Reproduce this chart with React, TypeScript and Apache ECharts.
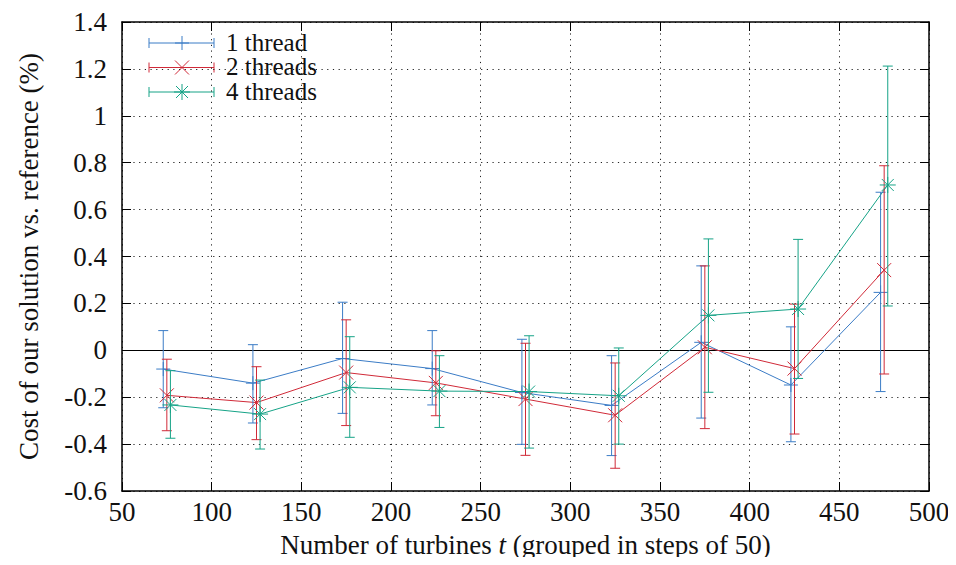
import React, { useEffect, useRef } from "react";
import * as echarts from "echarts";

// Group centres (number of turbines, grouped in steps of 50)
const groupCentres = [75, 125, 175, 225, 275, 325, 375, 425, 475];

// x positions (slightly shifted per series, as in the original plot)
const x1 = [73, 123, 173, 223, 273, 323, 373, 423, 473];
const x2 = [75, 125, 175, 225, 275, 325, 375, 425, 475];
const x4 = [77, 127, 177, 227, 277, 327, 377, 427, 477];

// 1 thread
const mean1 = [-0.08, -0.14, -0.035, -0.078, -0.18, -0.235, 0.034, -0.148, 0.247];
const low1 = [-0.245, -0.31, -0.269, -0.233, -0.401, -0.449, -0.289, -0.39, -0.176];
const high1 = [0.084, 0.024, 0.205, 0.084, 0.047, -0.023, 0.36, 0.1, 0.674];

// 2 threads
const mean2 = [-0.192, -0.223, -0.095, -0.139, -0.208, -0.277, 0.013, -0.078, 0.342];
const low2 = [-0.343, -0.381, -0.321, -0.279, -0.448, -0.503, -0.334, -0.357, -0.101];
const high2 = [-0.038, -0.07, 0.13, -0.002, 0.03, -0.054, 0.36, 0.197, 0.787];

// 4 threads
const mean4 = [-0.233, -0.272, -0.158, -0.174, -0.176, -0.194, 0.149, 0.176, 0.705];
const low4 = [-0.375, -0.421, -0.371, -0.329, -0.417, -0.4, -0.179, -0.12, 0.189];
const high4 = [-0.087, -0.127, 0.058, -0.023, 0.062, 0.01, 0.475, 0.473, 1.212];

const seriesNames = ["1 thread", "2 threads", "4 threads"];
const xTicks = { min: 50, max: 500, interval: 50 };
const yTicks = { min: -0.6, max: 1.4, interval: 0.2 };

const COLORS = ["#3b7cc6", "#d02a38", "#16a387"];
const MARKERS = ["plus", "cross", "star"];
const FONT = "Liberation Serif";
const FS = 27;
const LEGEND_FS = 25;

function seg(x1: number, y1: number, x2: number, y2: number, color: string, w = 1) {
  return {
    type: "line",
    shape: { x1, y1, x2, y2 },
    style: { stroke: color, lineWidth: w },
    silent: true,
  };
}

function markerLines(kind: string, cx: number, cy: number, color: string) {
  const out: any[] = [];
  if (kind === "plus" || kind === "star") {
    const s = kind === "plus" ? 7 : 8;
    out.push(seg(cx - s, cy, cx + s, cy, color));
    out.push(seg(cx, cy - s, cx, cy + s, color));
  }
  if (kind === "cross" || kind === "star") {
    const s = kind === "cross" ? 7 : 6;
    out.push(seg(cx - s, cy - s, cx + s, cy + s, color));
    out.push(seg(cx - s, cy + s, cx + s, cy - s, color));
  }
  return out;
}

function makeRender(color: string, kind: string) {
  return (params: any, api: any) => {
    const x = api.value(0);
    const y = api.value(1);
    const lo = api.value(2);
    const hi = api.value(3);
    const c = api.coord([x, y]);
    const l = api.coord([x, lo]);
    const h = api.coord([x, hi]);
    const cap = 5;
    return {
      type: "group",
      children: [
        seg(h[0], h[1], l[0], l[1], color),
        seg(h[0] - cap, h[1], h[0] + cap, h[1], color),
        seg(l[0] - cap, l[1], l[0] + cap, l[1], color),
        ...markerLines(kind, c[0], c[1], color),
      ],
    };
  };
}

export default function App() {
  const ref = useRef<HTMLDivElement>(null);
  useEffect(() => {
    if (!ref.current) return;
    const chart = echarts.init(ref.current, undefined, { renderer: "svg" });

    const xs = [x1, x2, x4];
    const means = [mean1, mean2, mean4];
    const lows = [low1, low2, low4];
    const highs = [high1, high2, high4];

    const series: any[] = [];
    seriesNames.forEach((name, i) => {
      series.push({
        name,
        type: "line",
        data: xs[i].map((x, j) => [x, means[i][j]]),
        showSymbol: false,
        symbol: "none",
        lineStyle: { color: COLORS[i], width: 1 },
        z: 3,
        markLine:
          i === 0
            ? {
                silent: true,
                symbol: "none",
                label: { show: false },
                lineStyle: { color: "#000", width: 1, type: "solid" },
                data: [{ yAxis: 0 }],
                z: 2,
              }
            : undefined,
      });
      series.push({
        name: name + " err",
        type: "custom",
        renderItem: makeRender(COLORS[i], MARKERS[i]),
        data: xs[i].map((x, j) => [x, means[i][j], lows[i][j], highs[i][j]]),
        encode: { x: 0, y: [1, 2, 3] },
        z: 4,
      });
    });

    // Legend drawn as graphic (gnuplot-style: error bar sample + marker)
    const legendRows = [43, 67.5, 92];
    const legendGraphics: any[] = [];
    seriesNames.forEach((name, i) => {
      const y = legendRows[i];
      const xa = 149;
      const xb = 214;
      const xm = 182;
      legendGraphics.push(seg(xa, y, xb, y, COLORS[i]));
      legendGraphics.push(seg(xa, y - 5, xa, y + 5, COLORS[i]));
      legendGraphics.push(seg(xb, y - 5, xb, y + 5, COLORS[i]));
      legendGraphics.push(...markerLines(MARKERS[i], xm, y, COLORS[i]));
      legendGraphics.push({
        type: "text",
        x: 226,
        y: y - 1,
        style: {
          text: name,
          fontFamily: FONT,
          fontSize: LEGEND_FS,
          lineHeight: 24,
          fill: "#111",
          verticalAlign: "middle",
          align: "left",
        },
      });
    });

    const gridLine = { show: true, lineStyle: { color: "#222", width: 1, type: [1.2, 4.5] } };

    chart.setOption({
      animation: false,
      backgroundColor: "#fff",
      grid: {
        left: 122,
        right: 27,
        top: 22,
        bottom: 74,
        containLabel: false,
        outerBoundsMode: "none",
        show: false,
      },
      xAxis: [
        {
          type: "value",
          min: xTicks.min,
          max: xTicks.max,
          interval: xTicks.interval,
          position: "bottom",
          name: "Number of turbines {i|t} (grouped in steps of 50)",
          nameLocation: "middle",
          nameGap: 40,
          nameTextStyle: {
            fontFamily: FONT,
            fontSize: FS,
            color: "#111",
            rich: { i: { fontFamily: FONT, fontSize: FS, fontStyle: "italic", color: "#111" } },
          },
          axisLine: { show: true, onZero: false, lineStyle: { color: "#000", width: 1.5 } },
          axisTick: { show: true, inside: true, length: 9, lineStyle: { color: "#000" } },
          axisLabel: { fontFamily: FONT, fontSize: FS, color: "#111", margin: 7 },
          splitLine: gridLine,
        },
        {
          type: "value",
          min: xTicks.min,
          max: xTicks.max,
          interval: xTicks.interval,
          position: "top",
          axisLine: { show: true, onZero: false, lineStyle: { color: "#000", width: 1.5 } },
          axisTick: { show: true, inside: true, length: 9, lineStyle: { color: "#000" } },
          axisLabel: { show: false },
          splitLine: { show: false },
        },
      ],
      yAxis: [
        {
          type: "value",
          min: yTicks.min,
          max: yTicks.max,
          interval: yTicks.interval,
          position: "left",
          name: "Cost of our solution vs. reference (%)",
          nameLocation: "middle",
          nameGap: 80,
          nameRotate: 90,
          nameTextStyle: { fontFamily: FONT, fontSize: FS, color: "#111" },
          axisLine: { show: true, onZero: false, lineStyle: { color: "#000", width: 1.5 } },
          axisTick: { show: true, inside: true, length: 9, lineStyle: { color: "#000" } },
          axisLabel: {
            fontFamily: FONT,
            fontSize: FS,
            color: "#111",
            margin: 15,
            formatter: (v: number) => String(Math.round(v * 10) / 10),
          },
          splitLine: gridLine,
        },
        {
          type: "value",
          min: yTicks.min,
          max: yTicks.max,
          interval: yTicks.interval,
          position: "right",
          axisLine: { show: true, onZero: false, lineStyle: { color: "#000", width: 1.5 } },
          axisTick: { show: true, inside: true, length: 9, lineStyle: { color: "#000" } },
          axisLabel: { show: false },
          splitLine: { show: false },
        },
      ],
      series,
      graphic: legendGraphics,
    });

    return () => chart.dispose();
  }, []);

  return <div ref={ref} style={{ width: 956, height: 565, margin: -8 }} />;
}
